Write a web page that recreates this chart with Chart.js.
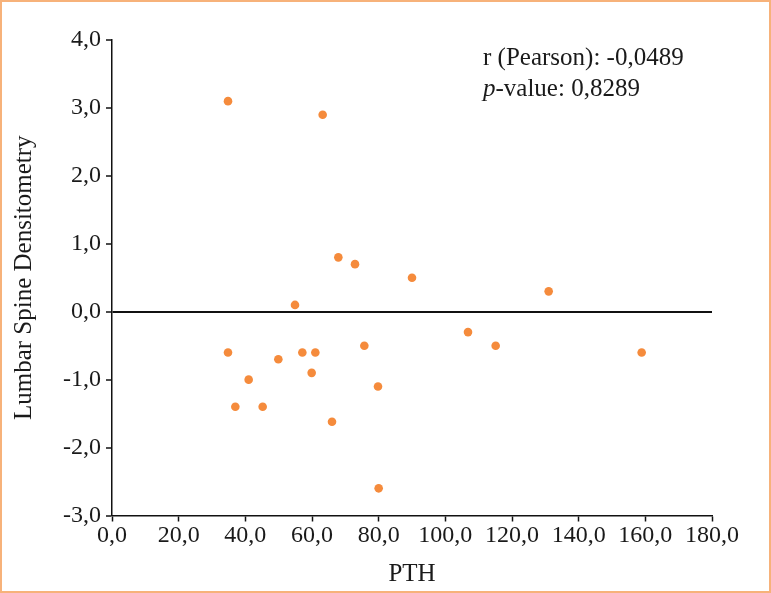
<!DOCTYPE html>
<html>
<head>
<meta charset="utf-8">
<script src="https://cdn.jsdelivr.net/npm/chart.js@4"></script>
<style>
  body { margin: 0; background: #fff; }
  #wrap { position: relative; width: 771px; height: 593px; }
  #frame { position: absolute; left: 0; top: 0; width: 771px; height: 593px;
           box-sizing: border-box; border: 2px solid #f7b27a; pointer-events: none; }
</style>
</head>
<body>
<div id="wrap">
  <canvas id="scatter" width="771" height="593"></canvas>
  <div id="frame"></div>
</div>
<script>
// PTH (x) vs lumbar spine densitometry (y)
const pth = [34.8, 63.2, 67.9, 72.9, 90.0, 131.0, 54.9, 106.8, 115.1, 158.9, 34.8,
             49.9, 57.1, 61.0, 75.7, 59.9, 41.0, 79.8, 37.0, 45.2, 66.0, 80.0];
const lumbar = [3.1, 2.9, 0.8, 0.7, 0.5, 0.3, 0.1, -0.3, -0.5, -0.6, -0.6,
                -0.7, -0.6, -0.6, -0.5, -0.9, -1.0, -1.1, -1.4, -1.4, -1.62, -2.6];
const xTicks = [0, 20, 40, 60, 80, 100, 120, 140, 160, 180];
const yTicks = [-3, -2, -1, 0, 1, 2, 3, 4];
const statLines = ['r (Pearson): -0,0489', 'p-value: 0,8289'];

const points = pth.map((v, i) => ({ x: v, y: lumbar[i] }));
const fmt = v => v.toFixed(1).replace('.', ',');
const serif = "'Liberation Serif', 'DejaVu Serif', serif";

// texto de estatística no canto superior direito
const statsText = {
    id: 'statsText',
    afterDraw(chart) {
        const ctx = chart.ctx;
        ctx.save();
        ctx.fillStyle = '#1a1a1a';
        ctx.textBaseline = 'middle';
        ctx.font = '25px ' + serif;
        ctx.fillText(statLines[0], 483, 58);
        ctx.font = 'italic 25px ' + serif;
        ctx.fillText('p', 483, 89);
        const w = ctx.measureText('p').width;
        ctx.font = '25px ' + serif;
        ctx.fillText(statLines[1].slice(1), 483 + w, 89);
        ctx.restore();
    }
};

new Chart(document.getElementById('scatter'), {
    type: 'scatter',
    data: {
        datasets: [{
            data: points,
            backgroundColor: '#f58b3c',
            borderWidth: 0,
            pointRadius: 4.3,
            pointHoverRadius: 4.3
        }]
    },
    options: {
        responsive: false,
        animation: false,
        events: [],
        layout: { padding: { top: 40, right: 59, left: 0, bottom: 0 } },
        plugins: { legend: { display: false }, tooltip: { enabled: false } },
        scales: {
            x: {
                type: 'linear',
                min: 0,
                max: 180,
                afterBuildTicks: s => { s.ticks = xTicks.map(v => ({ value: v })); },
                afterFit: s => { s.height = 77.5; },
                border: { color: '#111', width: 1.5 },
                grid: { drawOnChartArea: false, tickLength: 6, tickColor: '#111', tickWidth: 1.5 },
                ticks: {
                    color: '#1a1a1a',
                    padding: 0,
                    maxRotation: 0,
                    autoSkip: false,
                    font: { family: serif, size: 24 },
                    callback: v => fmt(v)
                },
                title: {
                    display: true,
                    text: 'PTH',
                    color: '#1a1a1a',
                    padding: { top: 2 },
                    font: { family: serif, size: 25 }
                }
            },
            y: {
                type: 'linear',
                min: -3,
                max: 4,
                afterBuildTicks: s => { s.ticks = yTicks.map(v => ({ value: v })); },
                afterFit: s => { s.width = 112; },
                border: { color: '#111', width: 1.5 },
                grid: {
                    drawOnChartArea: true,
                    tickLength: 6,
                    tickColor: '#111',
                    tickWidth: 1.5,
                    color: c => c.tick && c.tick.value === 0 ? '#111' : 'rgba(0,0,0,0)',
                    lineWidth: c => c.tick && c.tick.value === 0 ? 2 : 0
                },
                ticks: {
                    color: '#1a1a1a',
                    padding: 5,
                    font: { family: serif, size: 24 },
                    callback: v => fmt(v)
                },
                title: {
                    display: true,
                    text: 'Lumbar Spine Densitometry',
                    color: '#1a1a1a',
                    padding: { top: 9, bottom: 0 },
                    font: { family: serif, size: 25 }
                }
            }
        }
    },
    plugins: [statsText]
});
</script>
</body>
</html>
